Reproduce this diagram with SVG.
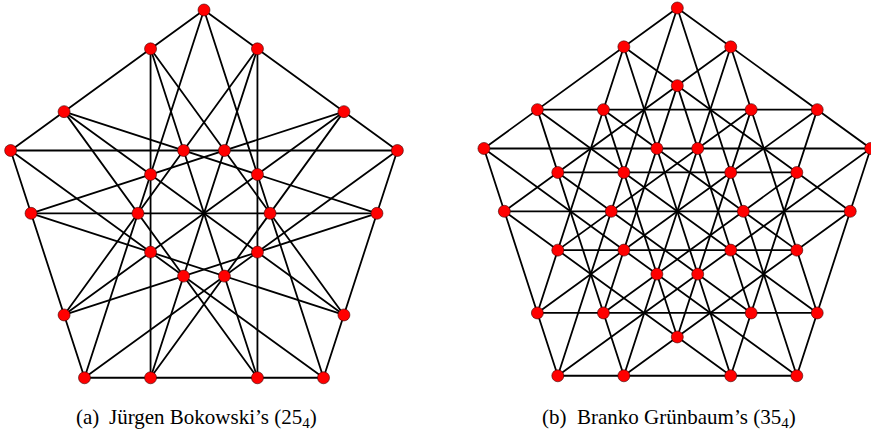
<svg xmlns="http://www.w3.org/2000/svg" width="871" height="436" viewBox="0 0 871 436">
<style>
.edges line{stroke:#000;stroke-width:1.8;stroke-linecap:round}
.node circle{fill:#ff0000;stroke:#3a0000;stroke-width:0.6}
.cap{font-family:"Liberation Serif","Times New Roman",serif;font-size:21px;fill:#000}
.sub{font-size:15px}
</style>
<rect width="871" height="436" fill="#fff"/>
<g id="fig-a">
<g id="a-connectors" class="edges">
<line x1="204" y1="10" x2="397.35" y2="150.48"/>
<line x1="397.35" y1="150.48" x2="323.5" y2="377.77"/>
<line x1="323.5" y1="377.77" x2="84.5" y2="377.77"/>
<line x1="84.5" y1="377.77" x2="10.65" y2="150.48"/>
<line x1="10.65" y1="150.48" x2="204" y2="10"/>
<line x1="204" y1="10" x2="323.5" y2="377.77"/>
<line x1="397.35" y1="150.48" x2="84.5" y2="377.77"/>
<line x1="323.5" y1="377.77" x2="10.65" y2="150.48"/>
<line x1="84.5" y1="377.77" x2="204" y2="10"/>
<line x1="10.65" y1="150.48" x2="397.35" y2="150.48"/>
<line x1="257.44" y1="48.83" x2="150.56" y2="377.77"/>
<line x1="343.91" y1="111.65" x2="64.09" y2="314.95"/>
<line x1="376.94" y1="213.3" x2="31.06" y2="213.3"/>
<line x1="343.91" y1="314.95" x2="64.09" y2="111.65"/>
<line x1="257.44" y1="377.77" x2="150.56" y2="48.83"/>
<line x1="257.44" y1="48.83" x2="257.44" y2="377.77"/>
<line x1="343.91" y1="111.65" x2="150.56" y2="377.77"/>
<line x1="376.94" y1="213.3" x2="64.09" y2="314.95"/>
<line x1="343.91" y1="314.95" x2="31.06" y2="213.3"/>
<line x1="257.44" y1="377.77" x2="64.09" y2="111.65"/>
<line x1="150.56" y1="377.77" x2="150.56" y2="48.83"/>
<line x1="64.09" y1="314.95" x2="257.44" y2="48.83"/>
<line x1="31.06" y1="213.3" x2="343.91" y2="111.65"/>
<line x1="64.09" y1="111.65" x2="376.94" y2="213.3"/>
<line x1="150.56" y1="48.83" x2="343.91" y2="314.95"/>
</g>
<g id="a-O0" class="node"><circle cx="204" cy="10" r="6"/></g>
<g id="a-O1" class="node"><circle cx="397.35" cy="150.48" r="6"/></g>
<g id="a-O2" class="node"><circle cx="323.5" cy="377.77" r="6"/></g>
<g id="a-O3" class="node"><circle cx="84.5" cy="377.77" r="6"/></g>
<g id="a-O4" class="node"><circle cx="10.65" cy="150.48" r="6"/></g>
<g id="a-M0" class="node"><circle cx="257.44" cy="48.83" r="6"/></g>
<g id="a-M1" class="node"><circle cx="343.91" cy="111.65" r="6"/></g>
<g id="a-M2" class="node"><circle cx="376.94" cy="213.3" r="6"/></g>
<g id="a-M3" class="node"><circle cx="343.91" cy="314.95" r="6"/></g>
<g id="a-M4" class="node"><circle cx="257.44" cy="377.77" r="6"/></g>
<g id="a-M5" class="node"><circle cx="150.56" cy="377.77" r="6"/></g>
<g id="a-M6" class="node"><circle cx="64.09" cy="314.95" r="6"/></g>
<g id="a-M7" class="node"><circle cx="31.06" cy="213.3" r="6"/></g>
<g id="a-M8" class="node"><circle cx="64.09" cy="111.65" r="6"/></g>
<g id="a-M9" class="node"><circle cx="150.56" cy="48.83" r="6"/></g>
<g id="a-I0" class="node"><circle cx="224.41" cy="150.48" r="6"/></g>
<g id="a-I1" class="node"><circle cx="257.44" cy="174.48" r="6"/></g>
<g id="a-I2" class="node"><circle cx="270.05" cy="213.3" r="6"/></g>
<g id="a-I3" class="node"><circle cx="257.44" cy="252.12" r="6"/></g>
<g id="a-I4" class="node"><circle cx="224.41" cy="276.12" r="6"/></g>
<g id="a-I5" class="node"><circle cx="183.59" cy="276.12" r="6"/></g>
<g id="a-I6" class="node"><circle cx="150.56" cy="252.12" r="6"/></g>
<g id="a-I7" class="node"><circle cx="137.95" cy="213.3" r="6"/></g>
<g id="a-I8" class="node"><circle cx="150.56" cy="174.48" r="6"/></g>
<g id="a-I9" class="node"><circle cx="183.59" cy="150.48" r="6"/></g>
<text id="cap-a" class="cap" y="424"><tspan x="76">(a)</tspan><tspan x="109">Jürgen Bokowski’s (25</tspan><tspan class="sub" dy="3.5">4</tspan><tspan dy="-3.5">)</tspan></text>
</g>
<g id="fig-b">
<g id="b-connectors" class="edges">
<line x1="677.3" y1="8" x2="870.65" y2="148.48"/>
<line x1="870.65" y1="148.48" x2="796.8" y2="375.77"/>
<line x1="796.8" y1="375.77" x2="557.8" y2="375.77"/>
<line x1="557.8" y1="375.77" x2="483.95" y2="148.48"/>
<line x1="483.95" y1="148.48" x2="677.3" y2="8"/>
<line x1="677.3" y1="8" x2="796.8" y2="375.77"/>
<line x1="870.65" y1="148.48" x2="557.8" y2="375.77"/>
<line x1="796.8" y1="375.77" x2="483.95" y2="148.48"/>
<line x1="557.8" y1="375.77" x2="677.3" y2="8"/>
<line x1="483.95" y1="148.48" x2="870.65" y2="148.48"/>
<line x1="730.74" y1="46.83" x2="623.86" y2="375.77"/>
<line x1="817.21" y1="109.65" x2="537.39" y2="312.95"/>
<line x1="850.24" y1="211.3" x2="504.36" y2="211.3"/>
<line x1="817.21" y1="312.95" x2="537.39" y2="109.65"/>
<line x1="730.74" y1="375.77" x2="623.86" y2="46.83"/>
<line x1="730.74" y1="46.83" x2="817.21" y2="312.95"/>
<line x1="817.21" y1="109.65" x2="730.74" y2="375.77"/>
<line x1="850.24" y1="211.3" x2="623.86" y2="375.77"/>
<line x1="817.21" y1="312.95" x2="537.39" y2="312.95"/>
<line x1="730.74" y1="375.77" x2="504.36" y2="211.3"/>
<line x1="623.86" y1="375.77" x2="537.39" y2="109.65"/>
<line x1="537.39" y1="312.95" x2="623.86" y2="46.83"/>
<line x1="504.36" y1="211.3" x2="730.74" y2="46.83"/>
<line x1="537.39" y1="109.65" x2="817.21" y2="109.65"/>
<line x1="623.86" y1="46.83" x2="850.24" y2="211.3"/>
<line x1="677.3" y1="85.65" x2="751.16" y2="312.95"/>
<line x1="751.16" y1="109.65" x2="677.3" y2="336.95"/>
<line x1="796.8" y1="172.47" x2="603.44" y2="312.95"/>
<line x1="796.8" y1="250.13" x2="557.8" y2="250.13"/>
<line x1="751.16" y1="312.95" x2="557.8" y2="172.47"/>
<line x1="677.3" y1="336.95" x2="603.44" y2="109.65"/>
<line x1="603.44" y1="312.95" x2="677.3" y2="85.65"/>
<line x1="557.8" y1="250.13" x2="751.16" y2="109.65"/>
<line x1="557.8" y1="172.47" x2="796.8" y2="172.47"/>
<line x1="603.44" y1="109.65" x2="796.8" y2="250.13"/>
</g>
<g id="b-O0" class="node"><circle cx="677.3" cy="8" r="6"/></g>
<g id="b-O1" class="node"><circle cx="870.65" cy="148.48" r="6"/></g>
<g id="b-O2" class="node"><circle cx="796.8" cy="375.77" r="6"/></g>
<g id="b-O3" class="node"><circle cx="557.8" cy="375.77" r="6"/></g>
<g id="b-O4" class="node"><circle cx="483.95" cy="148.48" r="6"/></g>
<g id="b-A0" class="node"><circle cx="730.74" cy="46.83" r="6"/></g>
<g id="b-A1" class="node"><circle cx="817.21" cy="109.65" r="6"/></g>
<g id="b-A2" class="node"><circle cx="850.24" cy="211.3" r="6"/></g>
<g id="b-A3" class="node"><circle cx="817.21" cy="312.95" r="6"/></g>
<g id="b-A4" class="node"><circle cx="730.74" cy="375.77" r="6"/></g>
<g id="b-A5" class="node"><circle cx="623.86" cy="375.77" r="6"/></g>
<g id="b-A6" class="node"><circle cx="537.39" cy="312.95" r="6"/></g>
<g id="b-A7" class="node"><circle cx="504.36" cy="211.3" r="6"/></g>
<g id="b-A8" class="node"><circle cx="537.39" cy="109.65" r="6"/></g>
<g id="b-A9" class="node"><circle cx="623.86" cy="46.83" r="6"/></g>
<g id="b-B0" class="node"><circle cx="677.3" cy="85.65" r="6"/></g>
<g id="b-B1" class="node"><circle cx="751.16" cy="109.65" r="6"/></g>
<g id="b-B2" class="node"><circle cx="796.8" cy="172.47" r="6"/></g>
<g id="b-B3" class="node"><circle cx="796.8" cy="250.13" r="6"/></g>
<g id="b-B4" class="node"><circle cx="751.16" cy="312.95" r="6"/></g>
<g id="b-B5" class="node"><circle cx="677.3" cy="336.95" r="6"/></g>
<g id="b-B6" class="node"><circle cx="603.44" cy="312.95" r="6"/></g>
<g id="b-B7" class="node"><circle cx="557.8" cy="250.13" r="6"/></g>
<g id="b-B8" class="node"><circle cx="557.8" cy="172.47" r="6"/></g>
<g id="b-B9" class="node"><circle cx="603.44" cy="109.65" r="6"/></g>
<g id="b-C0" class="node"><circle cx="697.71" cy="148.48" r="6"/></g>
<g id="b-C1" class="node"><circle cx="730.74" cy="172.48" r="6"/></g>
<g id="b-C2" class="node"><circle cx="743.35" cy="211.3" r="6"/></g>
<g id="b-C3" class="node"><circle cx="730.74" cy="250.12" r="6"/></g>
<g id="b-C4" class="node"><circle cx="697.71" cy="274.12" r="6"/></g>
<g id="b-C5" class="node"><circle cx="656.89" cy="274.12" r="6"/></g>
<g id="b-C6" class="node"><circle cx="623.86" cy="250.12" r="6"/></g>
<g id="b-C7" class="node"><circle cx="611.25" cy="211.3" r="6"/></g>
<g id="b-C8" class="node"><circle cx="623.86" cy="172.48" r="6"/></g>
<g id="b-C9" class="node"><circle cx="656.89" cy="148.48" r="6"/></g>
<text id="cap-b" class="cap" y="424"><tspan x="542">(b)</tspan><tspan x="577">Branko Grünbaum’s (35</tspan><tspan class="sub" dy="3.5">4</tspan><tspan dy="-3.5">)</tspan></text>
</g>
</svg>
